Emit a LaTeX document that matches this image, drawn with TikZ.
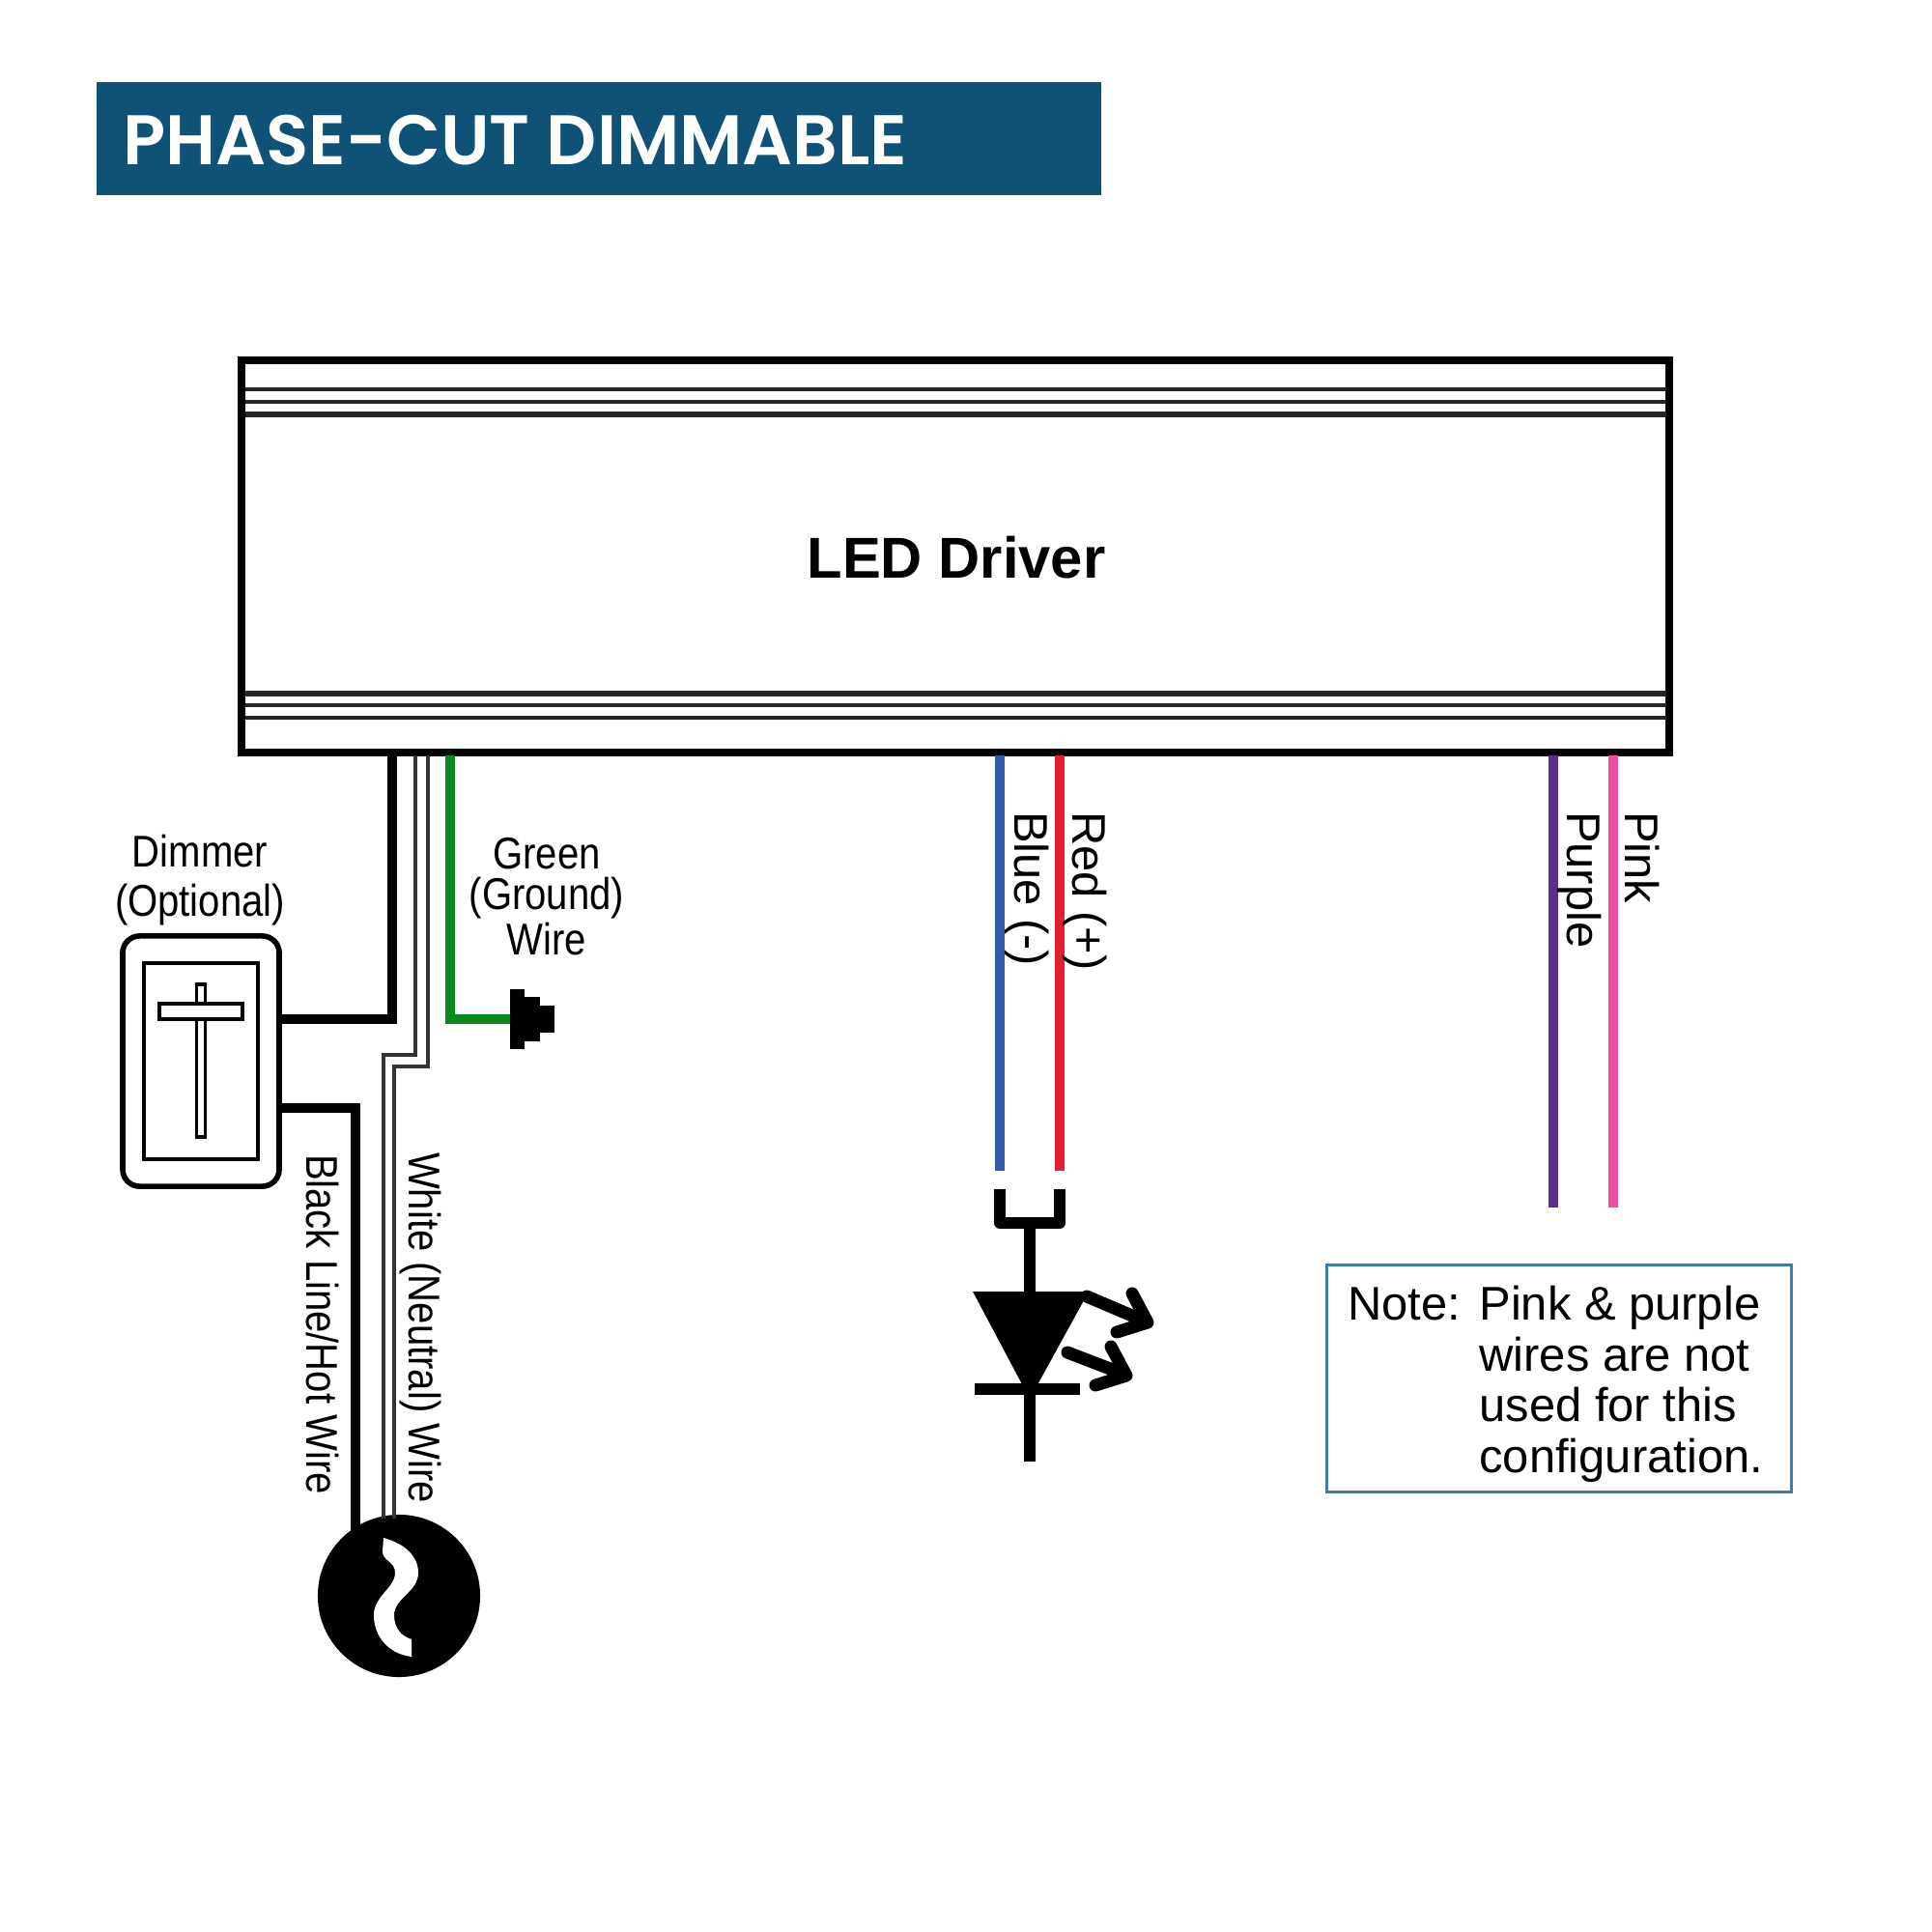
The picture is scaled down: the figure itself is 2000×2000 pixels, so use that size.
\documentclass[tikz,border=0pt]{standalone}
\usepackage{fontspec}
\setmainfont{Liberation Sans}
\newfontfamily\titlefont{Poppins SemiBold}
\newfontfamily\narrowfont[FakeStretch=0.87]{Liberation Sans}
\usepackage{tikz}
\definecolor{bannerblue}{HTML}{0F5277}
\definecolor{noteblue}{HTML}{3F7FA6}
\definecolor{wiregreen}{HTML}{0A8A1E}
\definecolor{wireblue}{HTML}{2F5DA8}
\definecolor{wirered}{HTML}{E2202E}
\definecolor{wirepurple}{HTML}{5C2D8A}
\definecolor{wirepink}{HTML}{EE4F9E}
\tikzset{
    every node/.style={outer sep=0pt},
    wire/.style={line width=2.7pt}, % colored and black wires
    thinwire/.style={line width=1.1pt, black!80}, % the white wire outline
    symbolline/.style={line width=3.3pt, line join=round}, % LED symbol
    narrowlabel/.style={font=\narrowfont\fontsize{13.1}{14.5}\selectfont, align=center, inner sep=0pt},
    sidelabel/.style={rotate=-90, anchor=west, inner sep=0pt, font=\fontsize{13.9}{15}\selectfont},
    narrowside/.style={rotate=-90, anchor=west, inner sep=0pt, font=\narrowfont\fontsize{13.1}{15}\selectfont}
}

\begin{document}
\begin{tikzpicture}[x=0.01cm, y=-0.01cm]
    \useasboundingbox (0,0) rectangle (2000,2000);

    \node[fill=bannerblue, minimum width=10.40cm, minimum height=1.17cm, inner sep=0pt, anchor=north west] (banner) at (99.5,85) {};
    \node[anchor=west, inner sep=0pt, text=white, font=\titlefont\fontsize{20.65}{24}\selectfont] (title) at (127,145) {PHASE-CUT DIMMABLE};

    \node[draw, line width=2.3pt, minimum width=14.78cm, minimum height=4.05cm, inner sep=0pt] (driver) at (989,576) {};
    \node[font=\bfseries\fontsize{17}{20}\selectfont] (drivertext) at (990,577) {LED Driver};
    \foreach \y/\w in {403/1.2pt,416/1.2pt,429/1.8pt,718/1.8pt,730/1.2pt,743/1.2pt} {
        \draw[line width=\w, black!85] (254,\y) -- (1725,\y);
    }

    % dimmer
    \node[draw, line width=1.6pt, rounded corners=5pt, minimum width=1.62cm, minimum height=2.59cm, inner sep=0pt] (dimmer) at (208,1098.5) {};
    \node[draw, line width=1.2pt, minimum width=1.18cm, minimum height=2.03cm, inner sep=0pt] (dimmerface) at (208,1098.5) {};
    \node[draw, line width=1.1pt, minimum width=0.09cm, minimum height=1.58cm, inner sep=0pt] (sliderslot) at (208,1098) {};
    \node[draw, fill=white, line width=1.1pt, minimum width=0.86cm, minimum height=0.16cm, inner sep=0pt] (sliderbar) at (208,1047) {};
    \node[narrowlabel, font=\narrowfont\fontsize{13.1}{14.5}\selectfont] (dimmertext) at (207,911) {Dimmer\\(Optional)};

    % source
    \node[circle, fill=black, minimum size=1.68cm, inner sep=0pt] (source) at (413,1652) {};
    \fill[white] (397,1592) .. controls (420,1598) and (433,1612) .. (433,1628)
        .. controls (433,1648) and (408,1654) .. (408,1672)
        .. controls (408,1686) and (416,1694) .. (426,1697)
        -- (426,1715) .. controls (402,1712) and (387,1694) .. (387,1672)
        .. controls (387,1652) and (409,1644) .. (409,1628)
        .. controls (409,1616) and (396,1616) .. (396,1606) -- cycle;

    % mains wires
    \coordinate (blacktop) at (406,782);
    \coordinate (blackturn) at (406,1055);
    \coordinate (hotturn) at (368,1147);
    \coordinate (hotend) at (368,1590);
    \draw[wire] (blacktop) -- (blackturn) -- (blackturn -| dimmer.east);
    \draw[wire] (hotturn -| dimmer.east) -- (hotturn) -- (hotend);
    \coordinate (neutralatop) at (430,782);
    \coordinate (neutralbtop) at (443,782);
    \coordinate (neutralaend) at (397,1572);
    \coordinate (neutralbend) at (408,1572);
    \draw[thinwire] (neutralatop) -- (430,1092) -- (397,1092) -- (neutralaend);
    \draw[thinwire] (neutralbtop) -- (443,1104) -- (408,1104) -- (neutralbend);

    % ground
    \coordinate (greentop) at (466,782);
    \coordinate (greenturn) at (466,1055);
    \node[fill=black, minimum width=0.15cm, minimum height=0.61cm, inner sep=0pt, anchor=west] (plugone) at (528,1055) {};
    \node[fill=black, minimum width=0.16cm, minimum height=0.46cm, inner sep=0pt, anchor=west] (plugtwo) at (plugone.east) {};
    \node[fill=black, minimum width=0.15cm, minimum height=0.28cm, inner sep=0pt, anchor=west] (plugthree) at (plugtwo.east) {};
    \draw[wire, wiregreen] (greentop) -- (greenturn) -- (plugone.west);
    \node[narrowlabel, font=\narrowfont\fontsize{13.1}{12.1}\selectfont] (greentext) at (566,928) {Green\\(Ground)\\Wire};

    % output wires
    \foreach \name/\col/\x/\yend in {blue/wireblue/1035/1212,red/wirered/1097/1212,purple/wirepurple/1608/1250,pink/wirepink/1670/1250} {
        \coordinate (\name top) at (\x,782);
        \coordinate (\name end) at (\x,\yend);
        \draw[wire, \col] (\name top) -- (\name end);
    }

    \node[narrowside] (hottext) at (334,1195) {Black Line/Hot Wire};
    \node[narrowside] (neutraltext) at (435,1193) {White (Neutral) Wire};
    \node[sidelabel] (bluetext) at (1063,840) {Blue (-)};
    \node[sidelabel] (redtext) at (1123,840) {Red (+)};
    \node[sidelabel] (purpletext) at (1635,840) {Purple};
    \node[sidelabel] (pinktext) at (1700,840) {Pink};

    % led symbol
    \coordinate (ledneg) at (1035,1231);
    \coordinate (ledpos) at (1097,1231);
    \coordinate (ledfork) at (1066,1266);
    \coordinate (ledtop) at (1066,1340);
    \coordinate (ledbar) at (1066,1438);
    \coordinate (ledend) at (1066,1513);
    \draw[symbolline] (ledneg) |- (ledfork) -| (ledpos);
    \draw[symbolline] (ledfork) -- (ledtop);
    \fill (1007,1337) -- (1127,1337) -- (1066,1448) -- cycle;
    \draw[symbolline] (ledbar) -- (ledend);
    \draw[symbolline] (1009,1438) -- (1118,1438);
    \draw[symbolline, line width=3.7pt, line cap=round] (1125,1342) -- (1186,1368);
    \draw[symbolline, line width=3.7pt, line cap=round] (1172,1339) -- (1188,1369) -- (1156,1379);
    \draw[symbolline, line width=3.7pt, line cap=round] (1105,1400) -- (1165,1423);
    \draw[symbolline, line width=3.7pt, line cap=round] (1150,1394) -- (1166,1424) -- (1134,1434);

    % note
    \node[draw=noteblue, line width=0.8pt, minimum width=4.81cm, minimum height=2.35cm, inner sep=0pt] (note) at (1614,1427) {};
    \node[inner sep=0pt, font=\fontsize{13.9}{15}\selectfont] (notetext) at (1610,1435) {
        \begin{tabular}{@{}l@{\hspace{5.6pt}}l@{}}Note:&Pink \& purple\\&wires are not\\&used for this\\&configuration.\end{tabular}};
\end{tikzpicture}
\end{document}
